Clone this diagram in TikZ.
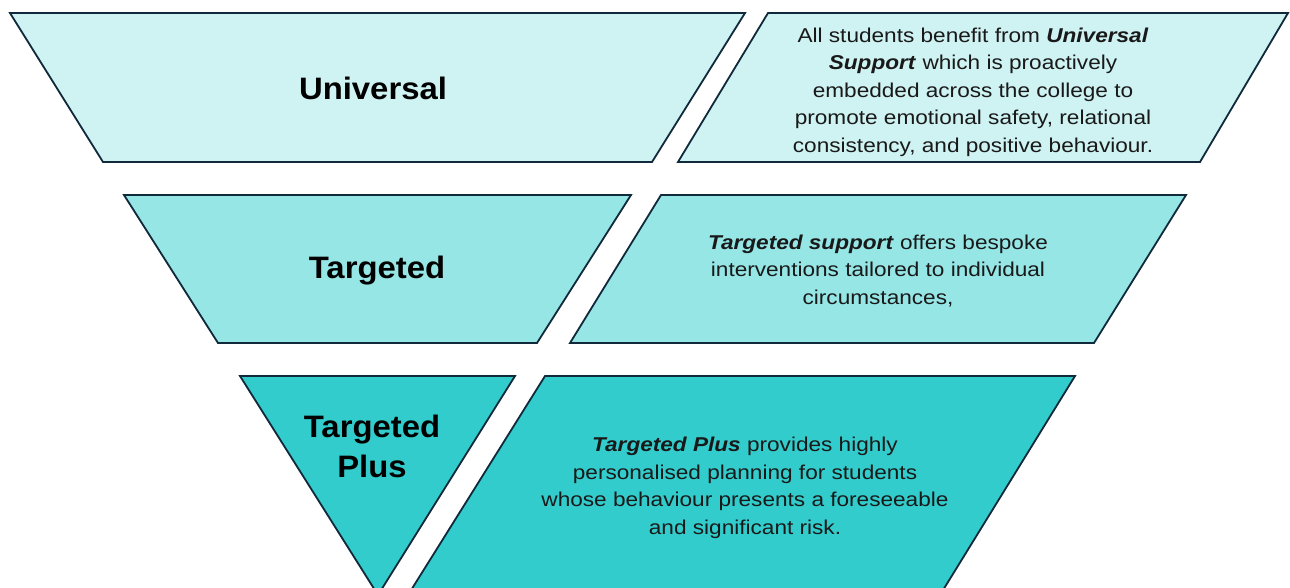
\documentclass[tikz,border=0pt]{standalone}
\usepackage{fontspec}
\setmainfont{Liberation Sans}
\newfontfamily\titlefont[FakeStretch=1.06]{Liberation Sans}
\newfontfamily\bodyfont[FakeStretch=1.13]{Liberation Sans}
\definecolor{edge}{HTML}{10293B}
\definecolor{tierA}{HTML}{CFF2F2}
\definecolor{tierB}{HTML}{96E6E6}
\definecolor{tierC}{HTML}{33CCCC}
\begin{document}
\begin{tikzpicture}[x=1pt,y=-1pt,
  panel/.style={draw=edge,line width=1.8pt,line join=miter},
  tiername/.style={font=\titlefont\fontsize{31}{40}\selectfont\bfseries,align=center,text=black},
  tiertext/.style={font=\bodyfont\fontsize{20}{27.5}\selectfont,align=center,text=black!90}]
\useasboundingbox (0,0) rectangle (1290,587);
\begin{scope}
\clip (0,0) rectangle (1290,587);
% Universal tier
\draw[panel,fill=tierA] (10,13) -- (745,13) -- (652,162) -- (103,162) -- cycle;
\draw[panel,fill=tierA] (768,13) -- (1288,13) -- (1200,162) -- (678,162) -- cycle;
% Targeted tier
\draw[panel,fill=tierB] (124,195) -- (631,195) -- (537,343) -- (218,343) -- cycle;
\draw[panel,fill=tierB] (661,195) -- (1186,195) -- (1094,343) -- (570,343) -- cycle;
% Targeted Plus tier
\draw[panel,fill=tierC] (240,376) -- (515,376) -- (378,595) -- cycle;
\draw[panel,fill=tierC] (545,376) -- (1075,376) -- (940,595) -- (408,595) -- cycle;
\end{scope}
% labels
\node[tiername] (uname) at (373,88) {Universal};
\node[tiername] (tname) at (377,271) {Targeted};
\node[tiername] (pname) at (372,446) {Targeted\\Plus};
\node[tiertext] (utext) at (973,92) {All students benefit from \textbf{\textit{Universal}}\\
  \textbf{\textit{Support}} which is proactively\\
  embedded across the college to\\
  promote emotional safety, relational\\
  consistency, and positive behaviour.};
\node[tiertext] (ttext) at (878,271) {\textbf{\textit{Targeted support}} offers bespoke\\
  interventions tailored to individual\\
  circumstances,};
\node[tiertext] (ptext) at (745,488) {\textbf{\textit{Targeted Plus}} provides highly\\
  personalised planning for students\\
  whose behaviour presents a foreseeable\\
  and significant risk.};
\end{tikzpicture}
\end{document}
